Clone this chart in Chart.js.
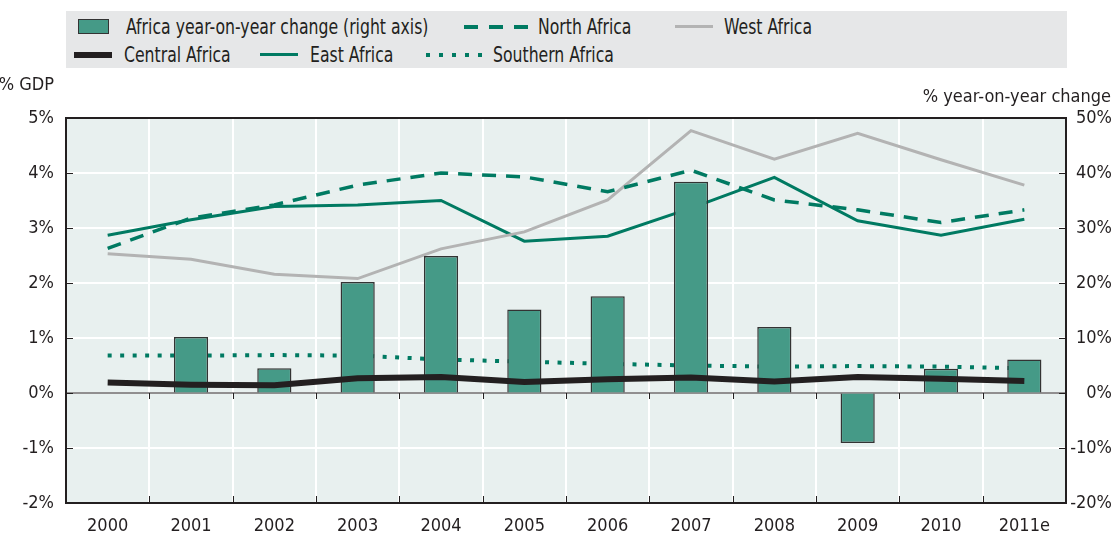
<!DOCTYPE html>
<html>
<head>
<meta charset="utf-8">
<script src="https://cdn.jsdelivr.net/npm/chart.js@4.4.1/dist/chart.umd.min.js"></script>
<style>
  body { margin: 0; background: #fff; }
  #wrap { position: relative; width: 1112px; height: 535px; overflow: hidden;
    font-family: "DejaVu Sans Condensed", "Liberation Sans Narrow", sans-serif; color: #231f20; }
  #chart { position: absolute; left: 0; top: 0; }
  .legend { position: absolute; left: 66px; top: 11px; width: 1001px; height: 57px; background: #e6e7e8; }
  .lbl { position: absolute; font-size: 21px; line-height: 22px; white-space: nowrap;
    transform: scaleX(0.83); transform-origin: left center; }
  .sw { position: absolute; }
  .title { position: absolute; font-size: 18px; line-height: 22px; white-space: nowrap; }
</style>
</head>
<body>
<div id="wrap">
  <canvas id="chart" width="1112" height="535"></canvas>
  <div class="legend"></div>
  <div class="sw" style="left:78px;top:19px;width:29px;height:13px;background:#459a87;border:1.5px solid #333;"></div>
  <span class="lbl" style="left:126px;top:16px;">Africa year-on-year change (right axis)</span>
  <div class="sw" style="left:464px;top:25px;width:64px;height:4px;background:repeating-linear-gradient(to right,#007a62 0 14px,transparent 14px 25px);"></div>
  <span class="lbl" style="left:538px;top:16px;">North Africa</span>
  <div class="sw" style="left:675px;top:25px;width:38px;height:3px;background:#b3b3b3;"></div>
  <span class="lbl" style="left:724px;top:16px;">West Africa</span>
  <div class="sw" style="left:74px;top:52px;width:38px;height:6px;background:#231f20;"></div>
  <span class="lbl" style="left:124px;top:44px;">Central Africa</span>
  <div class="sw" style="left:260px;top:53px;width:38px;height:3px;background:#007a62;"></div>
  <span class="lbl" style="left:310px;top:44px;">East Africa</span>
  <div class="sw" style="left:426px;top:53px;width:56px;height:4px;background:repeating-linear-gradient(to right,#007a62 0 4px,transparent 4px 13px);"></div>
  <span class="lbl" style="left:493px;top:44px;">Southern Africa</span>
  <span class="title" style="right:1058px;top:73px;">% GDP</span>
  <span class="title" style="right:1px;top:85px;">% year-on-year change</span>
</div>
<script>
const years = ["2000", "2001", "2002", "2003", "2004", "2005", "2006", "2007", "2008", "2009", "2010", "2011e"];

// % year-on-year change, right axis
const africaChange = [null, 10.2, 4.5, 20.2, 24.9, 15.2, 17.6, 38.4, 12.0, -9.1, 4.4, 6.1];

// % GDP, left axis
const northAfrica = [2.63, 3.18, 3.42, 3.78, 4.0, 3.93, 3.66, 4.05, 3.51, 3.33, 3.10, 3.33];
const westAfrica = [2.53, 2.43, 2.16, 2.08, 2.62, 2.93, 3.51, 4.77, 4.25, 4.72, 4.24, 3.78];
const centralAfrica = [0.19, 0.15, 0.14, 0.27, 0.29, 0.20, 0.25, 0.28, 0.21, 0.29, 0.26, 0.22];
const eastAfrica = [2.87, 3.15, 3.39, 3.42, 3.50, 2.76, 2.85, 3.36, 3.92, 3.13, 2.87, 3.16];
const southernAfrica = [0.68, 0.68, 0.69, 0.68, 0.61, 0.57, 0.53, 0.50, 0.48, 0.49, 0.48, 0.45];

const ink = "#231f20";
const teal = "#007a62";

Chart.defaults.font.family = '"DejaVu Sans Condensed", "Liberation Sans Narrow", sans-serif';
Chart.defaults.font.size = 18;
Chart.defaults.color = ink;

const plotFrame = {
  id: "plotFrame",
  beforeDraw(chart) {
    const a = chart.chartArea;
    const ctx = chart.ctx;
    ctx.save();
    ctx.fillStyle = "#e8f0ef";
    ctx.fillRect(a.left, a.top, a.right - a.left, a.bottom - a.top);
    ctx.restore();
  },
  beforeDatasetsDraw(chart) {
    const a = chart.chartArea;
    const ctx = chart.ctx;
    const y = chart.scales.y;
    const zero = y.getPixelForValue(0);
    ctx.save();
    ctx.strokeStyle = ink;
    ctx.lineWidth = 1;
    ctx.beginPath();
    ctx.moveTo(a.left, zero);
    ctx.lineTo(a.right, zero);
    const step = (a.right - a.left) / years.length;
    for (let i = 1; i < years.length; i++) {
      const px = Math.round(a.left + i * step) + 0.5;
      ctx.moveTo(px, a.bottom);
      ctx.lineTo(px, a.bottom - 7);
      ctx.moveTo(px, zero);
      ctx.lineTo(px, zero + 6);
    }
    y.ticks.forEach(t => {
      const py = Math.round(y.getPixelForValue(t.value)) + 0.5;
      ctx.moveTo(a.left, py);
      ctx.lineTo(a.left + 7, py);
      ctx.moveTo(a.right, py);
      ctx.lineTo(a.right - 7, py);
    });
    ctx.stroke();
    ctx.restore();
  },
  afterDatasetsDraw(chart) {
    const a = chart.chartArea;
    const ctx = chart.ctx;
    ctx.save();
    ctx.strokeStyle = ink;
    ctx.lineWidth = 2;
    ctx.strokeRect(a.left, a.top, a.right - a.left, a.bottom - a.top);
    ctx.restore();
  }
};

function lineSet(label, data, color, width, dash, order) {
  return {
    type: "line",
    label: label,
    data: data,
    yAxisID: "y",
    borderColor: color,
    backgroundColor: color,
    borderWidth: width,
    borderDash: dash,
    pointRadius: 0,
    tension: 0,
    fill: false,
    order: order
  };
}

new Chart(document.getElementById("chart"), {
  type: "bar",
  data: {
    labels: years,
    datasets: [
      {
        type: "bar",
        label: "Africa year-on-year change (right axis)",
        data: africaChange,
        yAxisID: "y1",
        backgroundColor: "#459a87",
        borderColor: "#333333",
        borderWidth: 1.5,
        categoryPercentage: 1,
        barPercentage: 0.41,
        order: 1
      },
      lineSet("North Africa", northAfrica, teal, 3.5, [14, 10], 2),
      lineSet("West Africa", westAfrica, "#b3b3b3", 3, [], 2),
      lineSet("East Africa", eastAfrica, teal, 3, [], 2),
      lineSet("Southern Africa", southernAfrica, teal, 4, [4, 8.5], 2),
      lineSet("Central Africa", centralAfrica, ink, 6, [], 0)
    ]
  },
  options: {
    responsive: false,
    animation: false,
    layout: { padding: { top: 118, bottom: 0, left: 0, right: 0 } },
    plugins: {
      legend: { display: false },
      tooltip: { enabled: false }
    },
    scales: {
      x: {
        offset: true,
        grid: { offset: true, color: "#ffffff", lineWidth: 2, drawTicks: false },
        border: { display: false },
        ticks: { padding: 13, maxRotation: 0, autoSkip: false },
        afterFit(scale) { scale.height = 32; }
      },
      y: {
        position: "left",
        min: -2,
        max: 5,
        grid: { color: "#ffffff", lineWidth: 2, drawTicks: false },
        border: { display: false },
        ticks: { stepSize: 1, padding: 12, callback: v => v + "%" },
        afterFit(scale) { scale.width = 66; }
      },
      y1: {
        position: "right",
        min: -20,
        max: 50,
        grid: { drawOnChartArea: false, drawTicks: false },
        border: { display: false },
        ticks: { stepSize: 10, crossAlign: "far", callback: v => v + "%" },
        afterFit(scale) { scale.width = 46; }
      }
    }
  },
  plugins: [plotFrame]
});
</script>
</body>
</html>
